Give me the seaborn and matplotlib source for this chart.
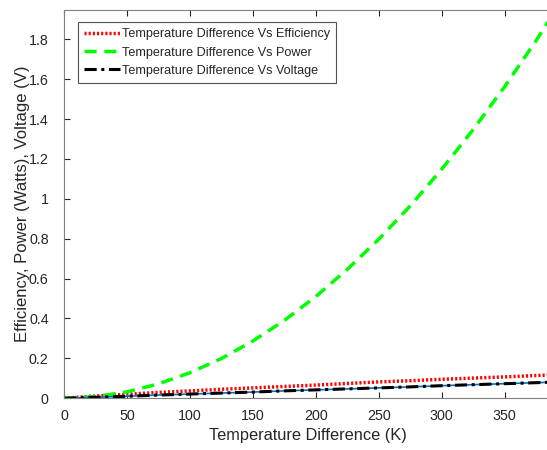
import numpy as np
import pandas as pd
import matplotlib
matplotlib.use("Agg")
import matplotlib.pyplot as plt
import seaborn as sns

# Data
temp_diff = [0, 25, 50, 75, 100, 125, 150, 175, 200, 225, 250, 275, 300, 325, 350, 375, 400]
efficiency = [0.0, 0.011, 0.020, 0.029, 0.037, 0.045, 0.052, 0.059, 0.066, 0.074, 0.082, 0.088, 0.095, 0.101, 0.107, 0.114, 0.120]
power = [0.0, 0.008, 0.032, 0.072, 0.128, 0.199, 0.287, 0.390, 0.510, 0.646, 0.797, 0.964, 1.148, 1.347, 1.562, 1.793, 2.040]
voltage = [0.0, 0.005, 0.010, 0.016, 0.021, 0.026, 0.031, 0.037, 0.042, 0.047, 0.052, 0.057, 0.063, 0.068, 0.073, 0.078, 0.083]

labels = ["Temperature Difference Vs Efficiency",
          "Temperature Difference Vs Power",
          "Temperature Difference Vs Voltage"]

sns.set_style("white")
plt.rcParams['font.family'] = ['Liberation Sans', 'DejaVu Sans']

fig = plt.figure(figsize=(5.47, 4.5), dpi=100)
ax = fig.add_axes([0.117, 0.115, 0.893, 0.863])

df = pd.DataFrame({"T": temp_diff, "E": efficiency, "P": power, "V": voltage})

sns.lineplot(data=df, x="T", y="E", ax=ax, color="#ff0000", linestyle=(0, (0.6, 0.6)),
             linewidth=2.5, label=labels[0])
sns.lineplot(data=df, x="T", y="P", ax=ax, color="#00ff00", linestyle=(0, (3.5, 2.2)),
             linewidth=2.5, label=labels[1])
sns.lineplot(data=df, x="T", y="V", ax=ax, color="#0072BD", linewidth=1.2, legend=False)
sns.lineplot(data=df, x="T", y="V", ax=ax, color="#000000", linestyle=(0, (4, 1.5, 1, 1.5)),
             linewidth=2.2, label=labels[2])

ax.set_xlim(0, 388)
ax.set_ylim(0, 1.947)
ax.set_xticks([0, 50, 100, 150, 200, 250, 300, 350])
ax.set_yticks([0, 0.2, 0.4, 0.6, 0.8, 1.0, 1.2, 1.4, 1.6, 1.8])
ax.set_yticklabels(["0", "0.2", "0.4", "0.6", "0.8", "1", "1.2", "1.4", "1.6", "1.8"])

ax.set_xlabel("Temperature Difference (K)", fontsize=11.8, color="#262626", labelpad=4)
ax.set_ylabel("Efficiency, Power (Watts), Voltage (V)", fontsize=12, color="#262626", labelpad=-1)
ax.tick_params(axis="both", direction="in", length=4, width=0.8, colors="#262626",
               labelsize=10.3, top=True, bottom=True, left=True, right=False)
ax.tick_params(axis="x", pad=7.5)
ax.tick_params(axis="y", pad=11)
for side in ["left", "bottom", "top", "right"]:
    ax.spines[side].set_color("#808080")
    ax.spines[side].set_linewidth(0.8)

leg = ax.legend(loc="upper left", bbox_to_anchor=(0.028, 0.969), fontsize=9.1,
                frameon=True, fancybox=False, handlelength=2.85, handletextpad=0.15,
                borderpad=0.5, labelspacing=0.5, borderaxespad=0.0)
leg.get_frame().set_edgecolor("#262626")
leg.get_frame().set_linewidth(0.8)

fig.savefig("out.png", dpi=100)
